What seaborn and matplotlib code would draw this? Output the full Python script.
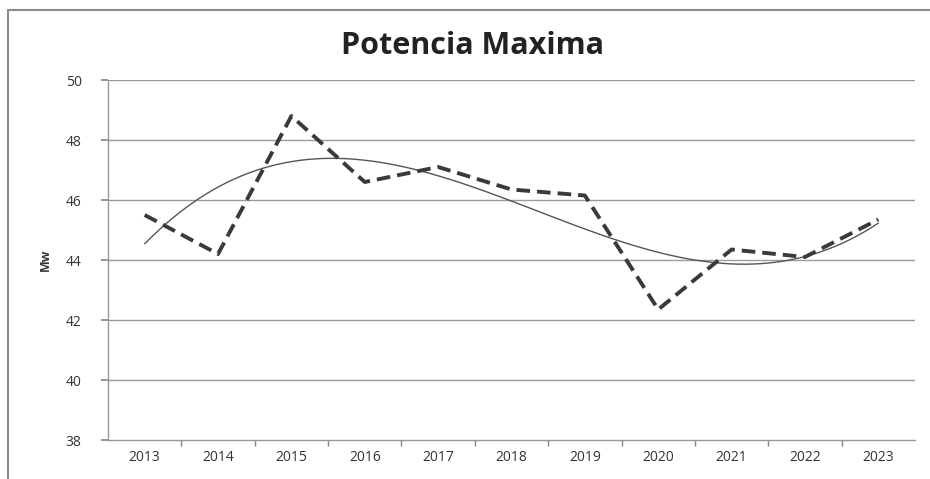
import numpy as np
import pandas as pd
import matplotlib
matplotlib.use("Agg")
import matplotlib.pyplot as plt
from matplotlib.patches import Rectangle
import seaborn as sns

years = [2013, 2014, 2015, 2016, 2017, 2018, 2019, 2020, 2021, 2022, 2023]
potencia = [45.5, 44.2, 48.8, 46.6, 47.1, 46.35, 46.15, 42.35, 44.35, 44.1, 45.35]
y_ticks = [38, 40, 42, 44, 46, 48, 50]
title = "Potencia Maxima"
ylabel = "Mw"

df = pd.DataFrame({"year": years, "mw": potencia})

sns.set_theme(style="white")
plt.rcParams['font.family'] = ['Open Sans', 'DejaVu Sans']

fig = plt.figure(figsize=(9.30, 4.79), dpi=100)
ax = fig.add_axes([108/930, 1-440/479, (915-108)/930, 360/479])

# outer chart border
fig.patches.append(Rectangle((8/930, -0.05), 1.2, 1 - 10/479 + 0.05,
                             transform=fig.transFigure, fill=False,
                             edgecolor="#8a8a8a", linewidth=1.5))

for t in y_ticks[1:]:
    ax.axhline(t, color="#9a9a9a", linewidth=1.0, zorder=0)

# polynomial (cubic) trend line
sns.regplot(data=df, x="year", y="mw", order=3, ci=None, scatter=False,
            ax=ax, line_kws=dict(color="#555555", linewidth=1.0), truncate=True)
# data line
sns.lineplot(data=df, x="year", y="mw", ax=ax, color="#3a3a3a",
             linewidth=2.8, linestyle=(0, (3.5, 1.8)))

ax.set_xlim(2012.5, 2023.5)
ax.set_ylim(38, 50)
ax.set_yticks(y_ticks)
ax.set_xticks(years)
ax.set_xticks([y + 0.5 for y in years[:-1]], minor=True)
ax.tick_params(axis="x", which="major", length=0, labelsize=10, colors="#333333", pad=7)
ax.tick_params(axis="x", which="minor", length=4, direction="out", color="#888888", bottom=True)
ax.tick_params(axis="y", which="major", length=5, direction="out", color="#888888",
               left=True, labelsize=10, colors="#333333", pad=14)
ax.set_xlabel("")
ax.set_ylabel(ylabel, fontsize=9, fontweight="bold", color="#333333", labelpad=8)
ax.yaxis.set_label_coords(-0.07, 0.5)

for s in ["top", "right"]:
    ax.spines[s].set_visible(False)
for s in ["left", "bottom"]:
    ax.spines[s].set_color("#999999")
    ax.spines[s].set_linewidth(1.0)

fig.text(472/930, 1-46/479, title, ha="center", va="center",
         fontsize=22, fontweight="bold", color="#222222")

fig.savefig("out.png", dpi=100, facecolor="white")
